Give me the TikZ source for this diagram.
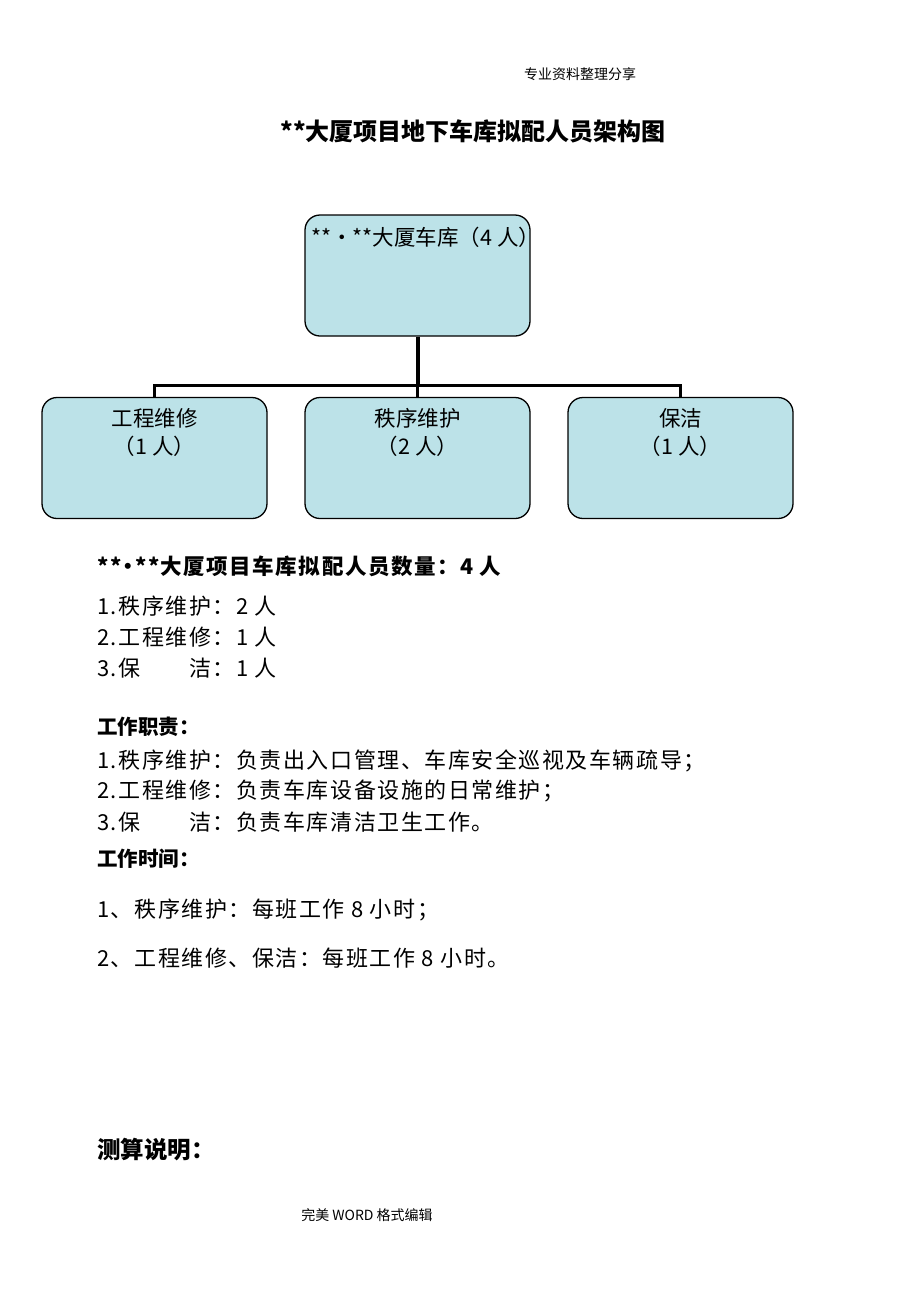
\documentclass[tikz,border=0pt]{standalone}
\usepackage{fontspec}
\setmainfont{Noto Sans CJK SC}
\newfontfamily\spaced[LetterSpace=7]{Noto Sans CJK SC}
\newcommand{\tightbul}{\kern-0.18em•\kern-0.18em}
\definecolor{boxfill}{RGB}{188,226,232}
\begin{document}
\begin{tikzpicture}[x=1pt,y=-1pt,
  orgbox/.style={draw=black, line width=1.3pt, fill=boxfill, rounded corners=15pt, minimum width=225pt, minimum height=121pt, inner sep=0pt},
  boxtxt/.style={font=\fontsize{21.5}{28}\selectfont, inner sep=0pt, align=center},
  para/.style={font=\spaced\fontsize{22}{26}\selectfont, inner sep=0pt, anchor=west},
  bpara/.style={font=\spaced\fontsize{21.5}{26}\selectfont\bfseries, inner sep=0pt, anchor=west},
  hpara/.style={font=\fontsize{20.5}{24}\selectfont\bfseries, inner sep=0pt, anchor=west},
  small/.style={font=\fontsize{14}{16}\selectfont, inner sep=0pt},
  conn/.style={line width=3pt}]
\useasboundingbox[fill=white] (0,0) rectangle (920,1302);

\node[small] (hdr) at (580,74) {专业资料整理分享};
\node[font=\fontsize{24}{28}\selectfont\bfseries, inner sep=0pt] (title) at (473,131) {**大厦项目地下车库拟配人员架构图};

\node[orgbox] (top) at (417.5,275.5) {};
\node[boxtxt, anchor=west] (toptxt) at (311,237) {**•**大厦车库（4 人）};

\node[orgbox] (b1) at (154.5,458) {};
\node[orgbox] (b2) at (417.5,458) {};
\node[orgbox] (b3) at (680.5,458) {};
\node[boxtxt] (b1t) at (154.5,432) {工程维修\\（1 人）};
\node[boxtxt] (b2t) at (417.5,432) {秩序维护\\（2 人）};
\node[boxtxt] (b3t) at (680.5,432) {保洁\\（1 人）};

\coordinate (j) at (417.5,385);
\draw[line width=4pt] (top.south) -- (j);
\draw[conn] (b1.north) |- (j) -| (b3.north);
\draw[conn] (j) -- (b2.north);

\node[bpara] (s1) at (97,566) {**\tightbul**大厦项目车库拟配人员数量：4 人};
\node[para] (s1a) at (97,606) {1.秩序维护：2 人};
\node[para] (s1b) at (97,637) {2.工程维修：1 人};
\node[para] (s1c) at (97,668) {3.保　　洁：1 人};

\node[hpara] (s2) at (97,727) {工作职责：};
\node[para] (s2a) at (97,761) {1.秩序维护：负责出入口管理、车库安全巡视及车辆疏导；};
\node[para] (s2b) at (97,791) {2.工程维修：负责车库设备设施的日常维护；};
\node[para] (s2c) at (97,822) {3.保　　洁：负责车库清洁卫生工作。};

\node[hpara] (s3) at (97,859) {工作时间：};
\node[para] (s3a) at (97,910) {1、秩序维护：每班工作 8 小时；};
\node[para] (s3b) at (97,958) {2、工程维修、保洁：每班工作 8 小时。};

\node[font=\fontsize{23.5}{26}\selectfont\bfseries, inner sep=0pt, anchor=west] (s4) at (97,1150) {测算说明：};
\node[small] (ftr) at (367,1215) {完美 WORD 格式编辑};
\end{tikzpicture}
\end{document}
